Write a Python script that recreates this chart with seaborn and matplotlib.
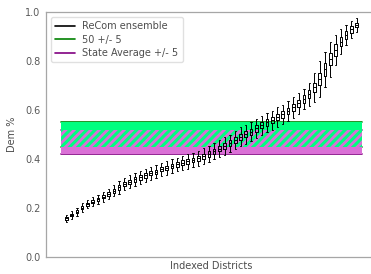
import numpy as np
import pandas as pd
import matplotlib
matplotlib.use("Agg")
import matplotlib.pyplot as plt
from matplotlib.lines import Line2D
import seaborn as sns

# median Dem share per indexed district
medians = [0.158, 0.171, 0.185, 0.201, 0.216, 0.226, 0.235, 0.246, 0.257, 0.271,
           0.284, 0.298, 0.307, 0.317, 0.325, 0.333, 0.342, 0.348, 0.358, 0.364,
           0.371, 0.378, 0.385, 0.390, 0.396, 0.403, 0.412, 0.420, 0.431, 0.442,
           0.453, 0.464, 0.478, 0.491, 0.501, 0.511, 0.525, 0.538, 0.549, 0.558,
           0.571, 0.582, 0.596, 0.611, 0.627, 0.645, 0.665, 0.693, 0.727, 0.766,
           0.807, 0.845, 0.879, 0.906, 0.929, 0.947]
# half height of each box (IQR / 2)
box_half = [0.005, 0.005, 0.006, 0.006, 0.006, 0.007, 0.007, 0.007, 0.008, 0.008,
            0.009, 0.009, 0.009, 0.009, 0.009, 0.009, 0.009, 0.009, 0.009, 0.009,
            0.009, 0.009, 0.009, 0.009, 0.010, 0.010, 0.010, 0.011, 0.011, 0.011,
            0.012, 0.012, 0.013, 0.013, 0.013, 0.013, 0.013, 0.013, 0.013, 0.013,
            0.013, 0.014, 0.014, 0.014, 0.015, 0.015, 0.016, 0.018, 0.024, 0.027,
            0.024, 0.024, 0.019, 0.017, 0.013, 0.009]
# whisker reach from the median
whisk_half = [0.015, 0.016, 0.017, 0.018, 0.018, 0.019, 0.020, 0.020, 0.022, 0.024,
              0.025, 0.026, 0.026, 0.026, 0.026, 0.027, 0.027, 0.027, 0.027, 0.028,
              0.028, 0.028, 0.028, 0.029, 0.030, 0.030, 0.031, 0.032, 0.033, 0.034,
              0.035, 0.036, 0.037, 0.038, 0.038, 0.038, 0.038, 0.038, 0.038, 0.039,
              0.040, 0.040, 0.041, 0.042, 0.043, 0.040, 0.047, 0.060, 0.073, 0.072,
              0.071, 0.063, 0.051, 0.041, 0.036, 0.028]

target = 0.50
state_avg = 0.47
margin = 0.05

n = len(medians)
districts = np.arange(1, n + 1)

rows = []
for d, m, b, w in zip(districts, medians, box_half, whisk_half):
    for v in (m - w, m - b, m, m + b, m + w):
        rows.append({"district": d, "dem": v})
df = pd.DataFrame(rows)

sns.set_theme(style="white")
plt.rcParams["font.family"] = ["DejaVu Sans"]
plt.rcParams["hatch.linewidth"] = 2.2

fig = plt.figure(figsize=(3.71, 2.74), dpi=100)
ax = fig.add_axes([46 / 371, 17 / 274, 331 / 371, 245 / 274])

band_x = [0, n + 1]
lo_g, hi_g = target - margin, target + margin
lo_s, hi_s = state_avg - margin, state_avg + margin

ax.plot(band_x, [hi_g, hi_g], color="green", lw=1.2, zorder=1)
ax.plot(band_x, [lo_g, lo_g], color="green", lw=1.2, zorder=1)
ax.plot(band_x, [hi_s, hi_s], color="purple", lw=1.2, zorder=1)
ax.plot(band_x, [lo_s, lo_s], color="purple", lw=1.2, zorder=1)
ax.fill_between(band_x, lo_g, hi_g, color="springgreen", lw=0, zorder=1.2)
ax.fill_between(band_x, lo_s, hi_s, color="orchid", lw=0, zorder=1.3)
ax.fill_between(band_x, max(lo_g, lo_s), min(hi_g, hi_s), facecolor="orchid",
                edgecolor="springgreen", hatch="////", lw=0, zorder=1.4)

sns.boxplot(data=df, x="district", y="dem", native_scale=True, fill=False,
            color="black", width=0.5, linewidth=0.7, whis=(0, 100), ax=ax)

ax.set_ylim(0, 1.0)
ax.set_xlim(-0.05 * (n + 1), (n + 1) * 1.05)
ax.set_xticks([])
ax.set_yticks([0.0, 0.2, 0.4, 0.6, 0.8, 1.0])
ax.tick_params(axis="y", labelsize=7, pad=4, colors="0.35", length=0)
ax.set_xlabel("Indexed Districts", fontsize=7, color="0.3", labelpad=3)
ax.set_ylabel("Dem %", fontsize=7, color="0.3", labelpad=6)
for s in ax.spines.values():
    s.set_color("0.65")
    s.set_linewidth(0.9)

handles = [Line2D([], [], color="black", lw=1.2),
           Line2D([], [], color="green", lw=1.2),
           Line2D([], [], color="purple", lw=1.2)]
labels = ["ReCom ensemble", "50 +/- 5", "State Average +/- 5"]
ax.legend(handles, labels, loc="upper left", fontsize=7, frameon=True,
          borderpad=0.45, labelspacing=0.35, handlelength=2.0,
          edgecolor="0.85", fancybox=True, labelcolor="0.3")

fig.savefig("out.png", dpi=100)
